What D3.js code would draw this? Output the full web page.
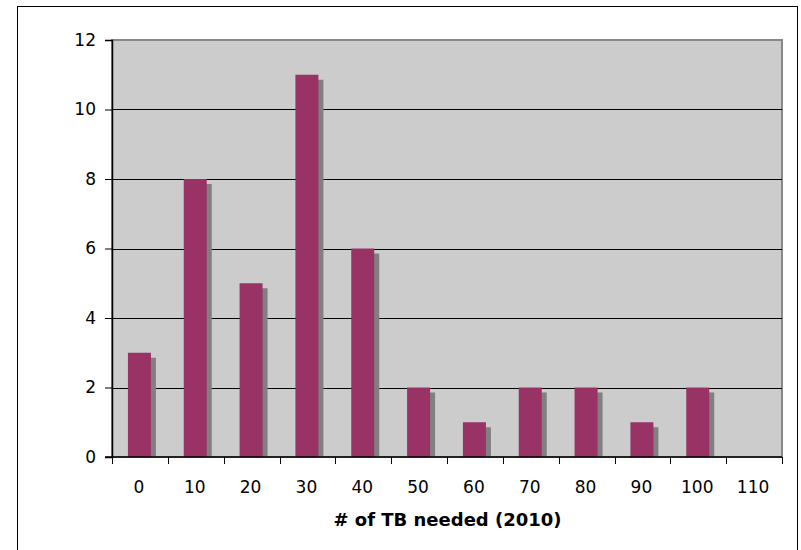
<!DOCTYPE html>
<html>
<head>
<meta charset="utf-8">
<script src="https://cdn.jsdelivr.net/npm/d3@7"></script>
<style>
  body { margin: 0; background: #fff; }
  text { font-family: "DejaVu Sans", Verdana, sans-serif; }
</style>
</head>
<body>
<script>
var categories = ["0", "10", "20", "30", "40", "50", "60", "70", "80", "90", "100", "110"];
var counts = [3, 8, 5, 11, 6, 2, 1, 2, 2, 1, 2, 0];
var yTicks = [0, 2, 4, 6, 8, 10, 12];

var data = categories.map((c, i) => ({cat: c, value: counts[i]}));

var margin = {top: 40, right: 19, bottom: 93, left: 112};
var width = 782 - margin.left;
var height = 457 - margin.top;

var svg = d3.select("body")
    .append("svg")
    .attr("width", 801)
    .attr("height", 550);

// outer chart frame
svg.append("rect")
    .attr("x", 17.5)
    .attr("y", 6.5)
    .attr("width", 780)
    .attr("height", 560)
    .attr("fill", "#fff")
    .attr("stroke", "#000")
    .attr("stroke-width", 1);

var g = svg.append("g")
    .attr("transform", `translate(${margin.left}, ${margin.top})`);

const x = d3.scaleBand()
    .domain(categories)
    .range([0, width])
    .paddingInner(0)
    .paddingOuter(0);

const y = d3.scaleLinear()
    .domain([0, 12])
    .range([height, 0]);

// plot background
g.append("rect")
    .attr("x", 0)
    .attr("y", 0)
    .attr("width", width)
    .attr("height", height)
    .attr("fill", "#cccccc")
    .attr("stroke", "#888888")
    .attr("stroke-width", 2);

// gridlines
g.selectAll(".grid")
    .data(yTicks.filter(d => d > 0 && d < 12))
    .enter()
    .append("line")
    .attr("x1", 0)
    .attr("x2", width)
    .attr("y1", d => Math.round(y(d)) + 0.5)
    .attr("y2", d => Math.round(y(d)) + 0.5)
    .attr("stroke", "#000")
    .attr("stroke-width", 1);

var barW = 23;
var off = (x.bandwidth() - barW) / 2 - 0.5;

// shadows
g.selectAll(".shadow")
    .data(data.filter(d => d.value > 0))
    .enter()
    .append("rect")
    .attr("x", d => x(d.cat) + off + 5)
    .attr("y", d => y(d.value) + 5)
    .attr("width", barW)
    .attr("height", d => height - y(d.value) - 5)
    .attr("fill", "#808080");

// bars
g.selectAll(".bar")
    .data(data.filter(d => d.value > 0))
    .enter()
    .append("rect")
    .attr("x", d => x(d.cat) + off)
    .attr("y", d => y(d.value))
    .attr("width", barW)
    .attr("height", d => height - y(d.value))
    .attr("fill", "#993366");

// y axis
var yAxis = d3.axisLeft(y)
    .tickValues(yTicks)
    .tickSize(7)
    .tickPadding(9);

var yg = g.append("g")
    .call(yAxis);
yg.select(".domain").attr("stroke", "#000").attr("stroke-width", 1.5);
yg.selectAll("line").attr("stroke", "#000");
yg.selectAll("text")
    .style("font-size", "17px")
    .attr("fill", "#000");

// x axis with ticks at band edges
var xg = g.append("g")
    .attr("transform", `translate(0, ${height})`);
xg.append("line")
    .attr("x1", -7)
    .attr("x2", width)
    .attr("y1", 0)
    .attr("y2", 0)
    .attr("stroke", "#000")
    .attr("stroke-width", 1.5);
xg.selectAll(".xtick")
    .data(categories.concat(["end"]))
    .enter()
    .append("line")
    .attr("x1", (d, i) => Math.round(i * x.bandwidth()) + 0.5)
    .attr("x2", (d, i) => Math.round(i * x.bandwidth()) + 0.5)
    .attr("y1", 0)
    .attr("y2", 7)
    .attr("stroke", "#000");
xg.selectAll(".xlabel")
    .data(categories)
    .enter()
    .append("text")
    .attr("x", d => x(d) + x.bandwidth() / 2 - 1)
    .attr("y", 36)
    .attr("text-anchor", "middle")
    .style("font-size", "17px")
    .text(d => d);

g.append("text")
    .attr("x", width / 2 + 0.5)
    .attr("y", 69)
    .attr("transform", `translate(0, ${height})`)
    .attr("text-anchor", "middle")
    .style("font-size", "18px")
    .style("font-weight", "bold")
    .text("# of TB needed (2010)");
</script>
</body>
</html>
